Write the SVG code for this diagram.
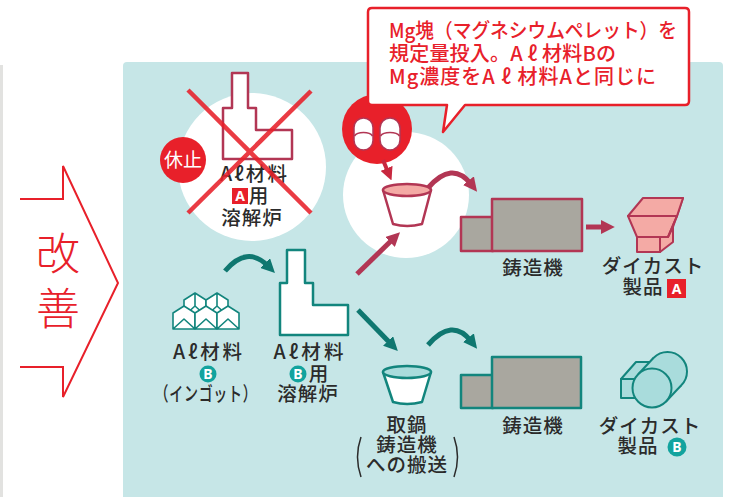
<svg xmlns="http://www.w3.org/2000/svg" width="739" height="497" viewBox="0 0 739 497">
  <defs>
    <style>
      .lbl { font-family: "Noto Sans CJK JP", "Noto Sans", sans-serif; font-size: 19.5px; font-weight: 500; letter-spacing: 1px; fill: #2b2b2b; text-anchor: middle; }
      .call { font-family: "Noto Sans CJK JP", "Noto Sans", sans-serif; font-size: 20px; font-weight: 500; fill: #e8202a; }
      .badge { font-family: "Noto Sans", "Liberation Sans", sans-serif; font-size: 14px; font-weight: bold; fill: #ffffff; text-anchor: middle; }
      .mar { stroke: #b23654; stroke-width: 2.5; stroke-linejoin: round; }
      .teal { stroke: #12857d; stroke-width: 2.5; stroke-linejoin: round; }
      .flowM { fill: none; stroke: #b23654; stroke-width: 5; }
      .flowT { fill: none; stroke: #0f7770; stroke-width: 5; }
    </style>
    <marker id="headM" viewBox="0 0 10 10" refX="3" refY="5" markerWidth="14" markerHeight="14" markerUnits="userSpaceOnUse" orient="auto">
      <path d="M0,0 L10,5 L0,10 Z" fill="#b23654"/>
    </marker>
    <marker id="headT" viewBox="0 0 10 10" refX="3" refY="5" markerWidth="14" markerHeight="14" markerUnits="userSpaceOnUse" orient="auto">
      <path d="M0,0 L10,5 L0,10 Z" fill="#0f7770"/>
    </marker>
    <marker id="headR" viewBox="0 0 10 10" refX="3" refY="5" markerWidth="13" markerHeight="13" markerUnits="userSpaceOnUse" orient="auto">
      <path d="M0,0 L10,5 L0,10 Z" fill="#c8283f"/>
    </marker>
  </defs>

  <!-- page background -->
  <rect x="0" y="0" width="739" height="497" fill="#ffffff"/>
  <line x1="1.5" y1="65" x2="1.5" y2="497" stroke="#e2e2e0" stroke-width="3"/>

  <!-- "改善" step arrow -->
  <g id="kaizen">
    <path d="M20,199 L63,199 L63,166 L118,283 L63,397 L63,367 L20,367" fill="none" stroke="#e8202a" stroke-width="2"/>
    <text x="58" y="270" font-family="Noto Sans CJK JP, sans-serif" font-size="44" font-weight="300" fill="#e8202a" text-anchor="middle">改</text>
    <text x="58" y="325" font-family="Noto Sans CJK JP, sans-serif" font-size="44" font-weight="300" fill="#e8202a" text-anchor="middle">善</text>
  </g>

  <!-- process panel -->
  <rect x="123" y="62" width="600" height="445" rx="4" fill="#c6e6e7"/>

  <!-- stopped furnace A -->
  <g id="furnaceA">
    <circle cx="252" cy="167" r="74" fill="#ffffff"/>
    <path d="M223,108 L232,108 L232,73 L248,73 L248,108 L256,108 L256,130 L292,130 L292,159 L223,159 Z" fill="#ffffff" class="mar"/>
    <text class="lbl" x="254" y="181" textLength="68" lengthAdjust="spacing">Aℓ材料</text>
    <rect x="232" y="188" width="16" height="16" fill="#e8202a"/>
    <text class="badge" x="240" y="201">A</text>
    <text class="lbl" x="259" y="203">用</text>
    <text class="lbl" x="252" y="225">溶解炉</text>
    <g stroke="#e8202a" stroke-width="4.5" opacity="0.88">
      <line x1="188" y1="90" x2="311" y2="213"/>
      <line x1="311" y1="91" x2="188" y2="213"/>
    </g>
    <circle cx="183" cy="160" r="23" fill="#e8202a"/>
    <text x="183" y="167" font-family="Noto Sans CJK JP, sans-serif" font-size="19" fill="#ffffff" text-anchor="middle">休止</text>
  </g>

  <!-- Mg addition + ladle A -->
  <g id="ladleA">
    <circle cx="406" cy="195" r="63" fill="#ffffff"/>
    <path d="M383,190 L393,224 Q407,228 422,224 L431,190 Z" fill="#ffffff" class="mar"/>
    <ellipse cx="407" cy="190" rx="24" ry="6" fill="#f4aaa5" class="mar"/>
  </g>

  <g id="mgPellets">
    <circle cx="377" cy="129" r="35" fill="#e8202a"/>
    <rect x="354" y="118" width="19" height="32" rx="9.5" fill="#ffffff" stroke="#b23654" stroke-width="1.5"/>
    <path d="M354.5,136 A9.5,5 0 0 1 372.5,136" fill="none" stroke="#b23654" stroke-width="1.5"/>
    <rect x="380" y="118" width="20" height="32" rx="10" fill="#ffffff" stroke="#b23654" stroke-width="1.5"/>
    <path d="M380.5,136 A10,5 0 0 1 399.5,136" fill="none" stroke="#b23654" stroke-width="1.5"/>
  </g>

  <!-- callout -->
  <g id="callout">
    <path d="M372,8 L685,8 Q689,8 689,12 L689,101 Q689,105 685,105 L465,105 L443,132 L447,105 L372,105 Q368,105 368,101 L368,12 Q368,8 372,8 Z" fill="#ffffff" stroke="#e8202a" stroke-width="2.5" stroke-linejoin="round"/>
    <text class="call" x="389" y="38" textLength="288" lengthAdjust="spacingAndGlyphs">Mg塊（マグネシウムペレット）を</text>
    <text class="call" x="389" y="61" textLength="227" lengthAdjust="spacing">規定量投入。A ℓ 材料Bの</text>
    <text class="call" x="389" y="84" textLength="267" lengthAdjust="spacing">Mg濃度をA ℓ 材料Aと同じに</text>
  </g>

  <!-- casting machine A -->
  <g id="castA">
    <rect x="461" y="217" width="32" height="34" fill="#a9a79f" class="mar"/>
    <rect x="492" y="199" width="90" height="52" fill="#a9a79f" class="mar"/>
    <text class="lbl" x="533" y="275">鋳造機</text>
  </g>

  <!-- die-cast product A -->
  <g id="productA" fill="#f4aaa5" stroke="#b23654" stroke-width="2" stroke-linejoin="round">
    <polygon points="637,237 660,237 660,252 637,252"/>
    <polygon points="660,237 673,227 673,242 660,252"/>
    <polygon points="628,216 677,216 668,237 637,237"/>
    <polygon points="677,216 683,198 673,227 668,237"/>
    <polygon points="628,216 643,198 683,198 677,216"/>
    <text class="lbl" x="653" y="273" fill="#2b2b2b" stroke="none">ダイカスト</text>
    <text class="lbl" x="643" y="294" fill="#2b2b2b" stroke="none">製品</text>
    <rect x="667" y="279" width="19" height="19" fill="#e8202a" stroke="none"/>
    <text class="badge" x="676.5" y="294" stroke="none">A</text>
  </g>

  <!-- ingots B -->
  <g id="ingotB" fill="#ffffff" stroke="#12857d" stroke-width="1.6" stroke-linejoin="round">
    <path d="M184,316 L184,300 L195,293 L206,300 L206,316 Z M184,316 L195,306 L206,316 M195,293 L195,306"/>
    <path d="M206,316 L206,300 L217,293 L228,300 L228,316 Z M206,316 L217,306 L228,316 M217,293 L217,306"/>
    <path d="M173,329 L173,313 L184,306 L195,313 L195,329 Z M173,329 L184,319 L195,329"/>
    <path d="M195,329 L195,313 L206,306 L217,313 L217,329 Z M195,329 L206,319 L217,329"/>
    <path d="M217,329 L217,313 L228,306 L239,313 L239,329 Z M217,329 L228,319 L239,329"/>
    <text class="lbl" x="208" y="359" fill="#2b2b2b" stroke="none" textLength="70" lengthAdjust="spacing">Aℓ材料</text>
    <circle cx="208" cy="374" r="8.5" fill="#12a39e" stroke="none"/>
    <text class="badge" x="208" y="379" stroke="none">B</text>
    <text class="lbl" x="206" y="401" fill="#2b2b2b" stroke="none" textLength="103" lengthAdjust="spacingAndGlyphs">（インゴット）</text>
  </g>

  <!-- furnace B -->
  <g id="furnaceB">
    <path d="M280,283 L287,283 L287,250 L305,250 L305,283 L313,283 L313,305 L348,305 L348,335 L280,335 Z" fill="#ffffff" class="teal" stroke-width="3"/>
    <text class="lbl" x="309" y="359" textLength="71" lengthAdjust="spacing">Aℓ材料</text>
    <circle cx="298" cy="374" r="8.5" fill="#12a39e"/>
    <text class="badge" x="298" y="379">B</text>
    <text class="lbl" x="319" y="381">用</text>
    <text class="lbl" x="308" y="401">溶解炉</text>
  </g>

  <!-- ladle B -->
  <g id="ladleB">
    <path d="M383,372 L393,402 Q407,406 422,402 L431,372 Z" fill="#ffffff" class="teal"/>
    <ellipse cx="407" cy="372" rx="24" ry="6" fill="#a9dcdc" class="teal"/>
    <text class="lbl" x="407" y="432">取鍋</text>
    <text class="lbl" x="407" y="452">鋳造機</text>
    <text class="lbl" x="407" y="472">への搬送</text>
    <path d="M361,437 Q354,457 361,477" fill="none" stroke="#2b2b2b" stroke-width="1.5"/>
    <path d="M454,437 Q461,457 454,477" fill="none" stroke="#2b2b2b" stroke-width="1.5"/>
  </g>

  <!-- casting machine B -->
  <g id="castB">
    <rect x="461" y="375" width="32" height="33" fill="#a9a79f" class="teal"/>
    <rect x="492" y="357" width="89" height="51" fill="#a9a79f" class="teal"/>
    <text class="lbl" x="533" y="433">鋳造機</text>
  </g>

  <!-- die-cast product B -->
  <g id="productB" fill="#a9dcdc" stroke="#12857d" stroke-width="2" stroke-linejoin="round">
    <polygon points="621,379 636,362 655,362 640,379"/>
    <rect x="621" y="379" width="19" height="19"/>
    <circle cx="667.5" cy="371.5" r="19.5"/>
    <polygon points="665.8,401.8 681.3,385.3 653.7,357.7 638.2,374.2" stroke="none"/>
    <line x1="665.8" y1="401.8" x2="681.3" y2="385.3"/>
    <line x1="638.2" y1="374.2" x2="653.7" y2="357.7"/>
    <circle cx="652" cy="388" r="19.5"/>
    <text class="lbl" x="650" y="433" fill="#2b2b2b" stroke="none">ダイカスト</text>
    <text class="lbl" x="638" y="453" fill="#2b2b2b" stroke="none">製品</text>
    <circle cx="677" cy="447" r="9.5" fill="#12a39e" stroke="none"/>
    <text class="badge" x="677" y="452" stroke="none">B</text>
  </g>

  <!-- flow connectors -->
  <g id="connectors">
    <path class="flowT" d="M225,271 Q247,245 268,266" marker-end="url(#headT)"/>
    <path class="flowM" d="M357,274 L393,239" marker-end="url(#headM)"/>
    <path class="flowT" d="M358,310 L391,344" marker-end="url(#headT)"/>
    <path d="M383,160 L388,172" fill="none" stroke="#c8283f" stroke-width="4" marker-end="url(#headR)"/>
    <path class="flowM" d="M428,188 Q452,160 471,184" marker-end="url(#headM)"/>
    <path class="flowT" d="M428,345 Q452,317 471,341" marker-end="url(#headT)"/>
    <path class="flowM" d="M586,227 L605,227" marker-end="url(#headM)"/>
  </g>
</svg>
